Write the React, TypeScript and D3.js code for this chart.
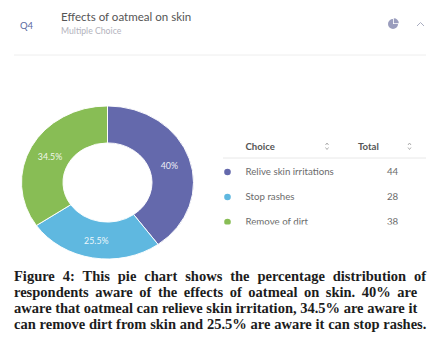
import React from 'react';
import * as d3 from 'd3';

// constants
const width = 435;
const height = 342;

// data
const choices = ['Relive skin irritations', 'Stop rashes', 'Remove of dirt'];
const totals = [44, 28, 38];
const percents = [40, 25.5, 34.5];
const percentLabels = ['40%', '25.5%', '34.5%'];
const colours = ['#6469ac', '#5fb8e0', '#88bd55'];
const captionLines = [
  'Figure 4: This pie chart shows the percentage distribution of',
  'respondents aware of the effects of oatmeal on skin. 40% are',
  'aware that oatmeal can relieve skin irritation, 34.5% are aware it',
  'can remove dirt from skin and 25.5% are aware it can stop rashes.',
];
const captionSpacing = [4.3, 2.9, 0, 0.15];

const sans = 'Lato, "Open Sans", sans-serif';

const App = () => {
  const pie = d3.pie<number>().value(d => d).sort(null);
  const arcs = pie(percents);
  const arc = d3.arc<d3.PieArcDatum<number>>().innerRadius(44.5).outerRadius(86);
  const labelArc = d3.arc<d3.PieArcDatum<number>>().innerRadius(65).outerRadius(65);

  const rowY = d3.scalePoint<string>().domain(choices).range([172, 222]);
  const iconPie = pie([75, 25]);
  const iconArc = d3.arc<d3.PieArcDatum<number>>().innerRadius(0).outerRadius(5);

  return (
    <svg width={width} height={height} style={{ position: 'absolute', left: 0, top: 0, background: '#fff' }}>
      <defs>
        <clipPath id="table-clip">
          <rect x={210} y={125} width={225} height={99.5} />
        </clipPath>
      </defs>

      {/* header */}
      <text x={20} y={29} fontFamily={sans} fontSize={9.5} fill="#5a6aa0">Q4</text>
      <text x={61} y={21} fontFamily={sans} fontSize={11.55} fill="#555">Effects of oatmeal on skin</text>
      <text x={61} y={34} fontFamily={sans} fontSize={8.7} fill="#b3b3bd">Multiple Choice</text>
      <g transform="translate(393,24) rotate(90)">
        {iconPie.map((d, i) => (
          <path key={i} d={iconArc(d) ?? ''} fill="#9a9dbd" transform={i === 1 ? 'translate(-0.8,-0.8)' : undefined} />
        ))}
      </g>
      <path d="M417,26 L420.5,22.5 L424,26" fill="none" stroke="#a9adc0" strokeWidth={1} />
      <line x1={14} x2={426} y1={55} y2={55} stroke="#eeeeee" />

      {/* donut */}
      <g transform="translate(107.5,182.5) scale(1,0.89)">
        {arcs.map((d, i) => (
          <path key={i} d={arc(d) ?? ''} fill={colours[i]} stroke="#fff" strokeWidth={1} />
        ))}
        {arcs.map((d, i) => {
          const [x, y] = labelArc.centroid(d);
          return (
            <text key={i} x={x} y={y + 2} transform={`translate(${x},${y}) scale(1,${1 / 0.89}) translate(${-x},${-y})`}
              textAnchor="middle" dominantBaseline="middle" fontFamily={sans} fontSize={8.8} fill="#fff" fillOpacity={0.9}>
              {percentLabels[i]}
            </text>
          );
        })}
      </g>

      {/* table */}
      <g clipPath="url(#table-clip)">
        <text x={245.5} y={150} fontFamily={sans} fontSize={9.6} fontWeight={700} fill="#555">Choice</text>
        <text x={358} y={150} fontFamily={sans} fontSize={9.6} fontWeight={700} fill="#555">Total</text>
        {[327, 409.5].map(x => (
          <path key={x} d={`M${x - 1.5},145 L${x},143 L${x + 1.5},145 M${x - 1.5},147.5 L${x},149.5 L${x + 1.5},147.5`}
            fill="none" stroke="#999" strokeWidth={0.8} />
        ))}
        <line x1={223} x2={426} y1={158} y2={158} stroke="#e8e8e8" />
        {choices.map((c, i) => (
          <g key={c}>
            <circle cx={227.5} cy={rowY(c)} r={3.3} fill={colours[i]} />
            <text x={245.5} y={(rowY(c) ?? 0) + 3} fontFamily={sans} fontSize={9.7} fill="#6b6b6b">{c}</text>
            <text x={387} y={(rowY(c) ?? 0) + 3} fontFamily={sans} fontSize={9.7} fill="#6b6b6b">{totals[i]}</text>
          </g>
        ))}
      </g>

      {/* caption */}
      {captionLines.map((line, i) => (
        <text key={i} x={14} y={281 + i * 16} fontFamily='"Liberation Serif", serif' fontWeight={700}
          fontSize={14.5} fill="#1c1c1c" wordSpacing={captionSpacing[i]}>
          {line}
        </text>
      ))}
    </svg>
  );
};

export default App;
